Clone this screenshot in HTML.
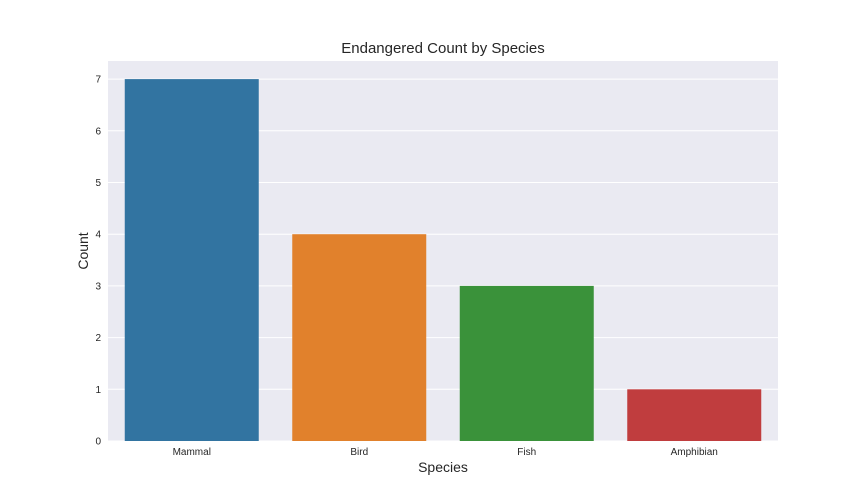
<!DOCTYPE html>
<html><head><meta charset="utf-8"><style>
html,body{margin:0;padding:0;background:#fff;}
svg{display:block;font-family:"Liberation Sans",sans-serif;}
</style></head><body>
<svg id="chart" width="864" height="504" viewBox="0 0 864 504">
<rect x="0" y="0" width="864" height="504" fill="#fff"/>
<rect x="108" y="61" width="670" height="380" fill="#eaeaf2"/>
<g id="grid"></g>
<g id="bars"></g>
<g id="yticks"></g>
<g id="xticks"></g>
<text x="443" y="53" text-anchor="middle" font-size="15" fill="#262626">Endangered Count by Species</text>
<text x="443" y="472" text-anchor="middle" font-size="14" fill="#262626">Species</text>
<text transform="translate(88,251) rotate(-90)" text-anchor="middle" font-size="14" fill="#262626">Count</text>
</svg>
<script>
const categories = ["Mammal","Bird","Fish","Amphibian"];
const counts = [7,4,3,1];
const colors = ["#3274a1","#e1812c","#3a923a","#c03d3e"];
const yTicks = [0,1,2,3,4,5,6,7];

const NS="http://www.w3.org/2000/svg";
const L=108,R=778,T=61,B=441;
const yMax=Math.max(...counts)*1.05;
function y(v){return B-(v/yMax)*(B-T);}
const band=(R-L)/categories.length;
function xc(i){return L+band*(i+0.5);}
function mk(tag,attrs,parent){const e=document.createElementNS(NS,tag);for(const k in attrs)e.setAttribute(k,attrs[k]);document.getElementById(parent).appendChild(e);return e;}

yTicks.forEach(t=>{
  const ln=mk("line",{x1:L,x2:R,y1:y(t),y2:y(t),stroke:"#fff","stroke-width":1},"grid");
  
  
  const tx=mk("text",{x:L-7,y:y(t)+3.5,"text-anchor":"end","font-size":10,fill:"#262626"},"yticks");
  tx.textContent=t;
  
  
});
categories.forEach((c,i)=>{
  const w=band*0.8;
  const r=mk("rect",{x:xc(i)-w/2,y:y(counts[i]),width:w,height:B-y(counts[i]),fill:colors[i]},"bars");
  
  
  const tx=mk("text",{x:xc(i),y:B+14,"text-anchor":"middle","font-size":10,fill:"#262626"},"xticks");
  tx.textContent=c;
  
  
});
</script>
</body></html>
